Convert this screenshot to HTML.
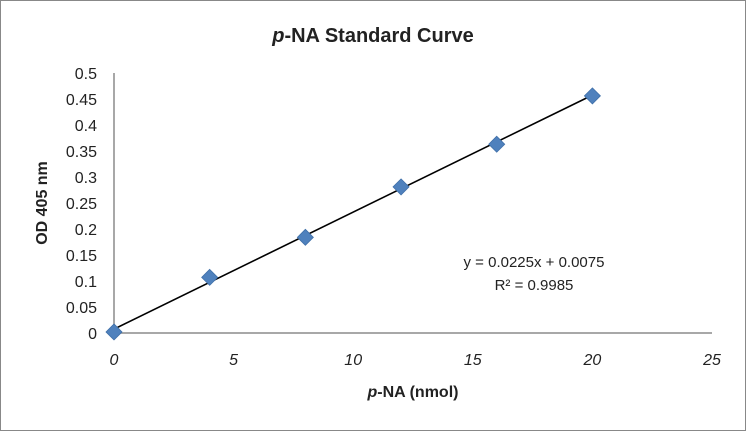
<!DOCTYPE html>
<html><head><meta charset="utf-8"><style>
body{margin:0;background:#fff}
svg{display:block;font-family:"Liberation Sans",sans-serif}
</style></head><body>
<svg id="chart" width="746" height="431">
<rect x="0.5" y="0.5" width="745" height="430" fill="#fff" stroke="#888"/>
<text x="373" y="42" text-anchor="middle" font-size="20" font-weight="bold" fill="#222"><tspan font-style="italic">p</tspan>-NA Standard Curve</text>
<text x="0" y="0" transform="translate(47,203) rotate(-90)" text-anchor="middle" font-size="16" font-weight="bold" fill="#222">OD 405 nm</text>
<text x="413" y="397" text-anchor="middle" font-size="16" font-weight="bold" fill="#222"><tspan font-style="italic">p</tspan>-NA (nmol)</text>
<text x="534" y="267" text-anchor="middle" font-size="15" fill="#222">y = 0.0225x + 0.0075</text>
<text x="534" y="290" text-anchor="middle" font-size="15" fill="#222">R² = 0.9985</text>
<g id="g"></g>
</svg>
<script>
const xVals=[0,4,8,12,16,20];
const yVals=[0.002,0.107,0.184,0.281,0.363,0.456];
const xTicks=[0,5,10,15,20,25];
const yTicks=[0,0.05,0.1,0.15,0.2,0.25,0.3,0.35,0.4,0.45,0.5];
const slope=0.0225, intercept=0.0075;
const X=v=>114+v*(712-114)/25;
const Y=v=>333-v*(333-73)/0.5;
const g=document.getElementById('g');
const NS='http://www.w3.org/2000/svg';
function mk(t,a){const e=document.createElementNS(NS,t);for(const k in a)e.setAttribute(k,a[k]);g.appendChild(e);return e;}
let ax=mk('line',{x1:X(0),y1:Y(0),x2:X(25),y2:Y(0),stroke:'#8c8c8c','stroke-width':1.5});


let ay=mk('line',{x1:X(0),y1:Y(0),x2:X(0),y2:Y(0.5),stroke:'#8c8c8c','stroke-width':1.5});


xTicks.forEach(t=>{const e=mk('text',{x:X(t),y:365,'text-anchor':'middle','font-size':16,'font-style':'italic',fill:'#222'});e.textContent=t;

});
yTicks.forEach(t=>{const e=mk('text',{x:97,y:Y(t)+6,'text-anchor':'end','font-size':16,fill:'#222'});e.textContent=t;

});
const x0=xVals[0],x1=xVals[xVals.length-1];
let tl=mk('line',{x1:X(x0),y1:Y(slope*x0+intercept),x2:X(x1),y2:Y(slope*x1+intercept),stroke:'#000','stroke-width':1.6});


xVals.forEach((x,i)=>{const cx=X(x),cy=Y(yVals[i]);const p=mk('polygon',{points:`${cx},${cy-8} ${cx+8},${cy} ${cx},${cy+8} ${cx-8},${cy}`,fill:'#4f81bd',stroke:'#3f6fa8','stroke-width':0.8});

});
</script>
</body></html>
